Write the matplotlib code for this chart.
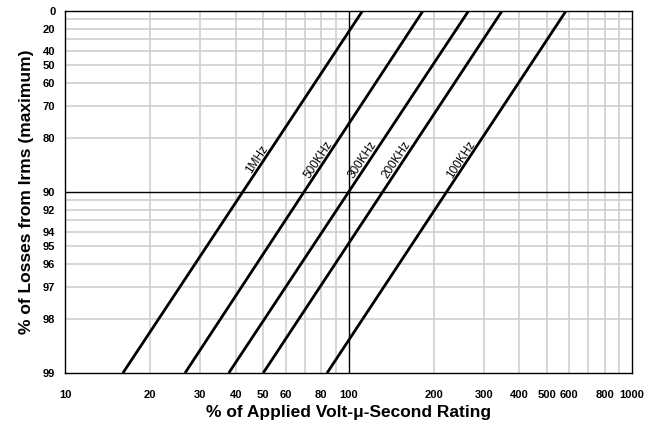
import numpy as np
import matplotlib
matplotlib.use("Agg")
import matplotlib.pyplot as plt

plt.rcParams['font.family'] = ['Liberation Sans', 'DejaVu Sans']

# frequency curves: applied volt-us % at 99% losses (bottom) and at 0% (top)
freqs = ["1MHz", "500KHz", "300KHz", "200KHz", "100KHz"]
x_at_99 = [16.0, 26.5, 37.8, 50.0, 84.0]
x_at_0 = [112, 183, 265, 348, 585]

x_ticks = [10, 20, 30, 40, 50, 60, 80, 100, 200, 300, 400, 500, 600, 800, 1000]
x_grid = [20, 30, 40, 50, 60, 70, 80, 90, 200, 300, 400, 500, 600, 700, 800, 900]
y_ticks = [0, 20, 40, 50, 60, 70, 80, 90, 92, 94, 95, 96, 97, 98, 99]
y_grid = [10, 20, 30, 40, 50, 60, 70, 80, 91, 92, 93, 94, 95, 96, 97, 98]
label_loss = 85.5


def fwd(y):
    return -np.log10(np.clip(100 - np.asarray(y, dtype=float), 1e-6, None))


def inv(u):
    return 100 - 10 ** (-np.asarray(u, dtype=float))


fig = plt.figure(figsize=(6.49, 4.29), dpi=100)
ax = fig.add_axes([0.1002, 0.1305, 0.8736, 0.8439])
ax.set_xscale('log')
ax.set_yscale('function', functions=(fwd, inv))
ax.set_xlim(10, 1000)
ax.set_ylim(99, 0)

ax.set_xticks(x_ticks)
ax.set_xticklabels([str(v) for v in x_ticks])
ax.set_xticks([], minor=True)
ax.set_yticks(y_ticks)
ax.set_yticklabels([str(v) for v in y_ticks])
ax.set_yticks([], minor=True)
ax.tick_params(which='both', length=0)
ax.tick_params(axis='x', pad=12, labelsize=8)
ax.tick_params(axis='y', pad=7, labelsize=8)
for lbl in ax.get_xticklabels() + ax.get_yticklabels():
    lbl.set_fontweight('bold')

# light grid
for gx in x_grid:
    ax.axvline(gx, color='#cfcfcf', linewidth=1.2, zorder=0)
for gy in y_grid:
    ax.axhline(gy, color='#cfcfcf', linewidth=1.2, zorder=0)

ax.axvline(100, color='black', linewidth=1.0, zorder=1)
ax.axhline(90, color='black', linewidth=1.0, zorder=1)

for name, xb, xt in zip(freqs, x_at_99, x_at_0):
    ax.plot([xb, xt], [99, 0], color='black', linewidth=2.0,
            solid_capstyle='butt', zorder=2)
    p1 = ax.transData.transform((xb, 99))
    p2 = ax.transData.transform((xt, 0))
    ang = np.degrees(np.arctan2(p2[1] - p1[1], p2[0] - p1[0]))
    t = (fwd(label_loss) - fwd(99)) / (fwd(0) - fwd(99))
    xl = 10 ** (np.log10(xb) + t * (np.log10(xt) - np.log10(xb)))
    ax.text(xl, label_loss, name, rotation=ang, rotation_mode='anchor',
            ha='center', va='bottom', fontsize=8.5, zorder=3)

for s in ax.spines.values():
    s.set_linewidth(1.0)
    s.set_zorder(4)

ax.set_xlabel("% of Applied Volt-μ-Second Rating", fontsize=12.5,
              fontweight='bold', labelpad=4)
ax.set_ylabel("% of Losses from Irms (maximum)", fontsize=12.5,
              fontweight='bold', labelpad=6)

fig.savefig("out.png", dpi=100)
